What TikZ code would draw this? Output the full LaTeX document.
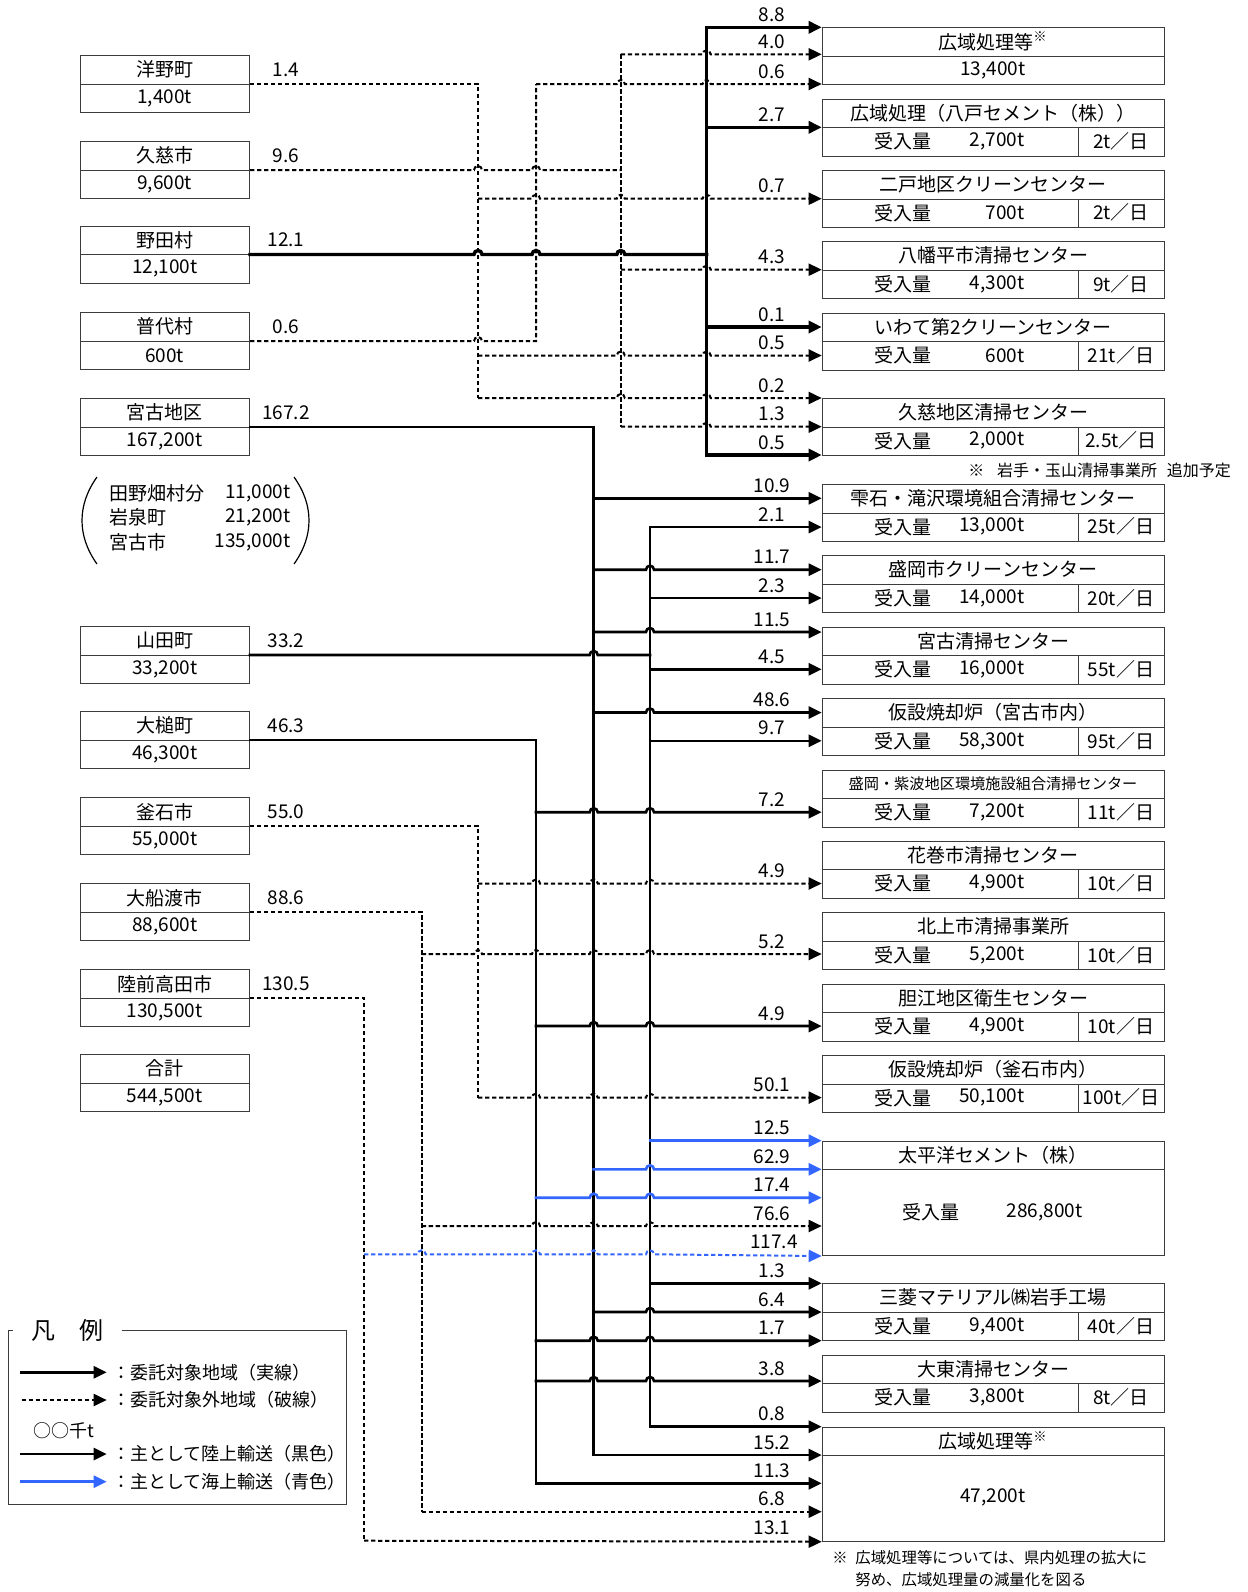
\documentclass[tikz,border=0pt]{standalone}
\usepackage{fontspec}
\setmainfont{Noto Sans CJK JP}
\usepackage{tikz}
\usetikzlibrary{arrows.meta}
\definecolor{umiblue}{RGB}{51,102,255}
\definecolor{waku}{RGB}{60,60,60}
% horizontal run with a hop over each x in the list
\newcommand{\hopover}[2]{\foreach \h in #2 {-- (\h-4,#1) arc[start angle=180,end angle=0,radius=2pt]}}

\begin{document}
\begin{tikzpicture}[x=0.5pt,y=-0.5pt,font=\fontsize{9.5}{11}\selectfont,
  lbox/.style={draw=waku,line width=0.5pt,minimum width=84.75pt,minimum height=28.5pt,inner sep=0pt},
  rbox/.style={draw=waku,line width=0.5pt,minimum width=171.15pt,minimum height=28.5pt,inner sep=0pt,anchor=north west},
  sep/.style={draw=waku,line width=0.5pt},
  txt/.style={inner sep=0pt},
  flowlbl/.style={inner sep=0pt,anchor=base},
  tip/.style={-{Triangle[length=6.5pt,width=6pt]}},
  riku/.style={line width=1.3pt,line cap=rect},
  noda/.style={line width=1.7pt,line cap=rect},
  kai/.style={line width=1pt,dash pattern=on 2.2pt off 1.3pt},
  umi/.style={riku,umiblue},
  umikai/.style={kai,umiblue},
  small/.style={font=\fontsize{7.7}{9}\selectfont},
  legfont/.style={font=\fontsize{9}{10}\selectfont}]
\def\bx{821.7}
\def\lx{772}
\useasboundingbox (0,0) rectangle (1248,1592);

% municipalities (left)
\foreach \n/\ly/\nm/\amt/\fl in {
  hirono/84/洋野町/{1,400t}/1.4,
  kujishi/170/久慈市/{9,600t}/9.6,
  noda/254.5/野田村/{12,100t}/12.1,
  fudai/341/普代村/600t/0.6,
  miyako/427/宮古地区/{167,200t}/167.2,
  yamada/655/山田町/{33,200t}/33.2,
  otsuchi/740/大槌町/{46,300t}/46.3,
  kamaishi/826/釜石市/{55,000t}/55.0,
  ofunato/912/大船渡市/{88,600t}/88.6,
  rikuzen/998/陸前高田市/{130,500t}/130.5}{
  \node[lbox] (src-\n) at (164.75,\ly) {};
  \draw[sep] (src-\n.west) -- (src-\n.east);
  \node[txt] (src-\n-t) at (164.75,\ly-14.25) {\nm};
  \node[txt] (src-\n-a) at (164.75,\ly+14.25) {\amt};
  \node[flowlbl] (src-\n-v) at (286,\ly-8) {\fl};
}
\node[lbox] (src-total) at (164.75,1083) {};
\draw[sep] (src-total.west) -- (src-total.east);
\node[txt] (src-total-t) at (164.75,1068.75) {合計};
\node[txt] (src-total-a) at (164.75,1097.25) {544,500t};

% breakdown of Miyako district
\foreach \nm/\amt/\ty [count=\i] in {田野畑村分/{11,000t}/493, 岩泉町/{21,200t}/517, 宮古市/{135,000t}/542}{
  \node[txt,anchor=west] (uchi-n\i) at (109,\ty) {\nm};
  \node[txt,anchor=east] (uchi-a\i) at (291,\ty) {\amt};
}
\draw[line width=0.6pt] (97,477) .. controls (77,505) and (77,536) .. (97,564);
\draw[line width=0.6pt] (294,477) .. controls (314,505) and (314,536) .. (294,564);

% treatment facilities (right)
\foreach \n/\ty/\nm/\amt/\rate in {
  hachinohe/98.7/{広域処理（八戸セメント（株））}/{2,700t}/2t／日,
  ninohe/170/二戸地区クリーンセンター/700t/2t／日,
  hachimantai/241.3/八幡平市清掃センター/{4,300t}/9t／日,
  iwate2/312.7/いわて第2クリーンセンター/600t/21t／日,
  kujicc/398/久慈地区清掃センター/{2,000t}/2.5t／日,
  shizukuishi/484/雫石・滝沢環境組合清掃センター/{13,000t}/25t／日,
  morioka/555.3/盛岡市クリーンセンター/{14,000t}/20t／日,
  miyakocc/626.7/宮古清掃センター/{16,000t}/55t／日,
  kasetsu1/698.3/仮設焼却炉（宮古市内）/{58,300t}/95t／日,
  shiwa/769.7/{\fontsize{7.6}{9}\selectfont 盛岡・紫波地区環境施設組合清掃センター}/{7,200t}/11t／日,
  hanamaki/840.7/花巻市清掃センター/{4,900t}/10t／日,
  kitakami/912.3/北上市清掃事業所/{5,200t}/10t／日,
  tanko/983.7/胆江地区衛生センター/{4,900t}/10t／日,
  kasetsu2/1055/仮設焼却炉（釜石市内）/{50,100t}/100t／日,
  mitsubishi/1283.3/三菱マテリアル㈱岩手工場/{9,400t}/40t／日,
  daito/1354.7/大東清掃センター/{3,800t}/8t／日}{
  \node[rbox] (dst-\n) at (\bx,\ty) {};
  \draw[sep] (dst-\n.west) -- (dst-\n.east);
  \draw[sep] (1078.3,\ty+28.5) -- (1078.3,\ty+57);
  \node[txt] (dst-\n-t) at (993,\ty+14.25) {\nm};
  \node[txt] (dst-\n-u) at (903,\ty+42.75) {受入量};
  \node[txt,anchor=east] (dst-\n-a) at (1025,\ty+42.75) {\amt};
  \node[txt] (dst-\n-r) at (1121,\ty+42.75) {\rate};
}
\node[rbox] (dst-koiki1) at (\bx,27.3) {};
\draw[sep] (dst-koiki1.west) -- (dst-koiki1.east);
\node[txt] (dst-koiki1-t) at (993,41.5) {広域処理等\textsuperscript{※}};
\node[txt] (dst-koiki1-a) at (993,70) {13,400t};

\node[rbox,minimum height=57.15pt] (dst-taiheiyo) at (\bx,1140.7) {};
\draw[sep] (dst-taiheiyo.west |- 0,1169.3) -- (dst-taiheiyo.east |- 0,1169.3);
\node[txt] (dst-taiheiyo-t) at (993,1155) {太平洋セメント（株）};
\node[txt] (dst-taiheiyo-u) at (931,1212) {受入量};
\node[txt,anchor=east] (dst-taiheiyo-a) at (1083,1212) {286,800t};

\node[rbox,minimum height=57pt] (dst-koiki2) at (\bx,1426.7) {};
\draw[sep] (dst-koiki2.west |- 0,1455) -- (dst-koiki2.east |- 0,1455);
\node[txt] (dst-koiki2-t) at (993,1441) {広域処理等\textsuperscript{※}};
\node[txt] (dst-koiki2-a) at (993,1497) {47,200t};

% trunks
\draw[kai] (src-hirono.east) -- (478,84) -- (478,398);
\draw[kai] (src-kujishi.east) \hopover{170}{{478,536}} -- (620.8,170);
\draw[kai] (620.8,54.3) -- (620.8,426.7);
\draw[noda] (src-noda.east) \hopover{254.5}{{478,536,620.8}} -- (706.6,254.5);
\draw[noda] (706.6,27.3) -- (706.6,455);
\draw[kai] (src-fudai.east) \hopover{341}{{478}} -- (536,341) -- (536,84);
\draw[riku] (src-miyako.east) -- (593.7,427) -- (593.7,1455);
\draw[riku] (src-yamada.east) \hopover{655}{{593.7}} -- (650,655);
\draw[riku] (650,527) -- (650,1426.7);
\draw[riku] (src-otsuchi.east) -- (536,740) -- (536,1483.3);
\draw[kai] (src-kamaishi.east) -- (478,826) -- (478,1097.6);
\draw[kai] (src-ofunato.east) -- (421.7,912) -- (421.7,1511.7);
\draw[kai] (src-rikuzen.east) -- (364,998) -- (364,1540.7);

% branches, land transport
\foreach \x/\y/\dst/\fl [count=\i] in {
  706.6/27.3/koiki1/8.8, 706.6/127.3/hachinohe/2.7, 706.6/327/iwate2/0.1, 706.6/455/kujicc/0.5}{
  \draw[noda,tip] (\x,\y) -- (dst-\dst.west |- 0,\y);
  \node[flowlbl] (fn-\i) at (\lx,\y-6) {\fl};
}
\foreach \x/\y/\dst/\fl [count=\i] in {
  593.7/498.3/shizukuishi/10.9, 650/527/shizukuishi/2.1, 650/598/morioka/2.3, 650/669.3/miyakocc/4.5,
  650/740.8/kasetsu1/9.7, 650/1283.3/mitsubishi/1.3, 650/1426.7/koiki2/0.8, 593.7/1455/koiki2/15.2,
  536/1483.3/koiki2/11.3}{
  \draw[riku,tip] (\x,\y) -- (dst-\dst.west |- 0,\y);
  \node[flowlbl] (fa-\i) at (\lx,\y-6) {\fl};
}
\foreach \x/\y/\dst/\hl/\fl [count=\i] in {
  593.7/569.7/morioka/{650}/11.7, 593.7/632/miyakocc/{650}/11.5, 593.7/712.5/kasetsu1/{650}/48.6,
  593.7/1312/mitsubishi/{650}/6.4, 536/812.2/shiwa/{593.7,650}/7.2, 536/1026/tanko/{593.7,650}/4.9,
  536/1340.7/mitsubishi/{593.7,650}/1.7, 536/1381/daito/{593.7,650}/3.8}{
  \draw[riku,tip] (\x,\y) \hopover{\y}{\hl} -- (dst-\dst.west |- 0,\y);
  \node[flowlbl] (fb-\i) at (\lx,\y-6) {\fl};
}
% branches, sea transport
\draw[umi,tip] (650,1140.7) -- (dst-taiheiyo.north west);
\node[flowlbl] (fc-1) at (\lx,1134.7) {12.5};
\foreach \x/\y/\hl/\fl [count=\i] in {593.7/1169.3/{650}/62.9, 536/1197.7/{593.7,650}/17.4}{
  \draw[umi,tip] (\x,\y) \hopover{\y}{\hl} -- (dst-taiheiyo.west |- 0,\y);
  \node[flowlbl] (fd-\i) at (\lx,\y-6) {\fl};
}
% branches, outside the contract area
\foreach \x/\y/\dst/\hl/\fl [count=\i] in {
  478/198.7/ninohe/{536,620.8,706.6}/0.7, 478/355.5/iwate2/{620.8,706.6}/0.5,
  478/398/kujicc/{620.8,706.6}/0.2, 620.8/54.3/koiki1/{706.6}/4.0,
  620.8/269.7/hachimantai/{706.6}/4.3, 620.8/426.7/kujicc/{706.6}/1.3,
  536/84/koiki1/{620.8,706.6}/0.6, 478/883.5/hanamaki/{536,593.7,650}/4.9,
  478/1097.6/kasetsu2/{536,593.7,650}/50.1, 421.7/954/kitakami/{478,536,593.7,650}/5.2,
  421.7/1226/taiheiyo/{536,593.7,650}/76.6}{
  \draw[kai,tip] (\x,\y) \hopover{\y}{\hl} -- (dst-\dst.west |- 0,\y);
  \node[flowlbl] (fe-\i) at (\lx,\y-6) {\fl};
}
\draw[kai,tip] (421.7,1511.7) -- (dst-koiki2.west |- 0,1511.7);
\node[flowlbl] (ff-1) at (\lx,1505.7) {6.8};
\draw[kai,tip] (364,1540.7) -- (dst-koiki2.south west);
\node[flowlbl] (ff-2) at (\lx,1534.7) {13.1};
\draw[umikai,tip] (364,1254.3) \hopover{1254.3}{{421.7,536,593.7,650}} -- (dst-taiheiyo.south west);
\node[flowlbl] (ff-3) at (\lx+2,1248.3) {117.4};

% notes
\node[txt,font=\fontsize{8}{9}\selectfont,anchor=west] (note-a) at (968,470) {※\hspace{0.8em}岩手・玉山清掃事業所\hspace{0.6em}追加予定};
\node[txt,small,anchor=west] (note-b0) at (832,1558) {※};
\node[txt,small,anchor=west] (note-b1) at (855,1558) {広域処理等については、県内処理の拡大に};
\node[txt,small,anchor=west] (note-b2) at (855,1580) {努め、広域処理量の減量化を図る};

% legend
\draw[sep] (121.7,1330.7) -- (346.7,1330.7) -- (346.7,1504) -- (8.3,1504) -- (8.3,1330.7) -- (13.3,1330.7);
\node[txt,font=\fontsize{12}{13}\selectfont] (leg-title) at (68,1330) {凡\hspace{1em}例};
\foreach \y/\s in {1372.3/a,1400/b,1454/c,1481.7/d}{
  \coordinate (leg-\s0) at (21.7,\y);
  \coordinate (leg-\s1) at (106.7,\y);
}
\draw[riku,tip] (leg-a0) -- (leg-a1);
\draw[kai,tip] (leg-b0) -- (leg-b1);
\draw[riku,tip] (leg-c0) -- (leg-c1);
\draw[umi,tip] (leg-d0) -- (leg-d1);
\node[txt,legfont,anchor=west] (leg-t1) at (112,1372.3) {：委託対象地域（実線）};
\node[txt,legfont,anchor=west] (leg-t2) at (112,1400) {：委託対象外地域（破線）};
\node[txt,legfont] (leg-t0) at (64,1430.7) {○○千t};
\node[txt,legfont,anchor=west] (leg-t3) at (112,1454) {：主として陸上輸送（黒色）};
\node[txt,legfont,anchor=west] (leg-t4) at (112,1481.7) {：主として海上輸送（青色）};
\end{tikzpicture}
\end{document}
